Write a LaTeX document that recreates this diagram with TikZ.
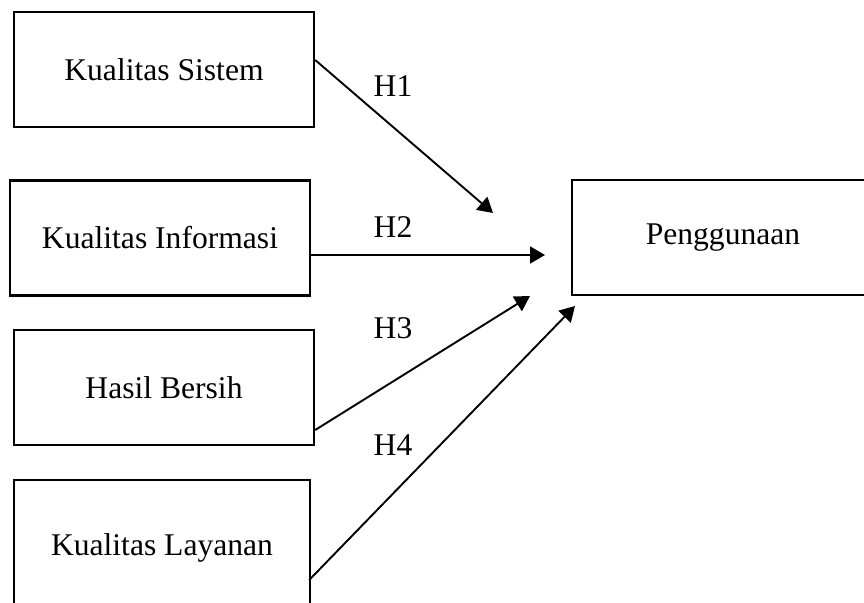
\documentclass[tikz,border=0pt]{standalone}
\usepackage{fontspec}
\setmainfont{Liberation Serif}
\usetikzlibrary{arrows.meta,positioning}

\begin{document}
\begin{tikzpicture}[
    x=0.5pt, y=0.5pt,
    font=\fontsize{15.8}{19}\selectfont,
    box/.style={draw, line width=1.2pt, align=center, minimum width=150pt, minimum height=57.5pt},
    tallbox/.style={box, minimum width=148pt, minimum height=67.5pt},
    lbl/.style={inner sep=0pt},
    link/.style={->, line width=0.95pt},
    >={Triangle[length=7.5pt,width=8.5pt]}
  ]
    \useasboundingbox (0,0) rectangle (864,602);
    \clip (0,0) rectangle (864,602);

    \node[box] (sistem) at (164,532.5) {Kualitas Sistem};
    \node[box] (informasi) at (160,364) {Kualitas Informasi};
    \node[box] (hasil) at (164,214.5) {Hasil Bersih};
    \node[tallbox] (layanan) at (162,54.5) {Kualitas Layanan};
    \node[box, minimum width=151pt] (guna) at (723,364.5) {Penggunaan};

    \coordinate (t1) at (493,389);
    \coordinate (t2) at (545,347);
    \coordinate (t3) at (530,306);
    \coordinate (t4) at (575,296);

    \draw[link] ([yshift=4.75pt]sistem.east) -- (t1);
    \draw[link] ([yshift=-8.5pt]informasi.east) -- (t2);
    \draw[link] ([yshift=-21.25pt]hasil.east) -- (t3);
    \draw[link] ([xshift=-1pt,yshift=-16.25pt]layanan.east) -- (t4);

    \node[lbl] (h1) at (393,516) {H1};
    \node[lbl] (h2) at (393,375) {H2};
    \node[lbl] (h3) at (393,274) {H3};
    \node[lbl] (h4) at (393,157) {H4};
  \end{tikzpicture}
\end{document}
